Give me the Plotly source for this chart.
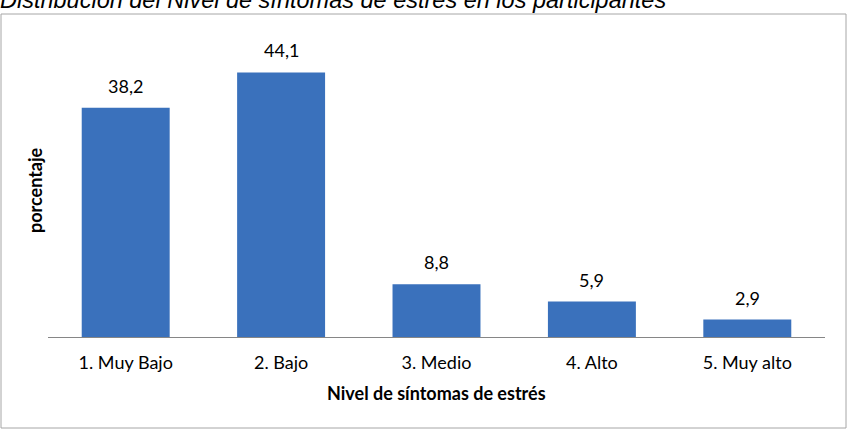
import plotly.graph_objects as go

categorias = ["1. Muy Bajo", "2. Bajo", "3. Medio", "4. Alto", "5. Muy alto"]
porcentajes = [38.2, 44.1, 8.8, 5.9, 2.9]
titulo = "Distribución del Nivel de síntomas de estrés en los participantes"
titulo_x = "Nivel de síntomas de estrés"
titulo_y = "porcentaje"

FONT = "Lato, Calibri, Carlito, sans-serif"

fig = go.Figure()
fig.add_trace(go.Bar(
    x=categorias, y=porcentajes,
    marker=dict(color="#3A71BC", line=dict(width=0)),
    width=0.566,
    hoverinfo="skip",
))

annotations = []
for c, v in zip(categorias, porcentajes):
    annotations.append(dict(
        x=c, y=v, xref="x", yref="y",
        text=f"{v:.1f}".replace(".", ","),
        showarrow=False, yanchor="bottom", yshift=9,
        font=dict(family=FONT, size=18, color="#000000"),
    ))
annotations.append(dict(
    x=(436 - 48) / 777, y=(337 - 393) / 300, xref="paper", yref="paper",
    text=f"<b>{titulo_x}</b>", showarrow=False, xanchor="center", yanchor="middle",
    font=dict(family=FONT, size=18, color="#000000"),
))
annotations.append(dict(
    x=(35 - 48) / 777, y=(337 - 190) / 300, xref="paper", yref="paper",
    text=f"<b>{titulo_y}</b>", showarrow=False, xanchor="center", yanchor="middle",
    textangle=-90,
    font=dict(family=FONT, size=18, color="#000000"),
))
annotations.append(dict(
    x=(-2 - 48) / 777, y=(337 - 15) / 300, xref="paper", yref="paper",
    text=f"<i>{titulo}</i>", showarrow=False, xanchor="left", yanchor="bottom",
    font=dict(family="Liberation Sans, Arial, sans-serif", size=23.5, color="#000000"),
))

fig.update_layout(
    width=854, height=444,
    margin=dict(l=48, r=29, t=37, b=107),
    paper_bgcolor="white", plot_bgcolor="white",
    showlegend=False,
    annotations=annotations,
    shapes=[dict(
        type="rect", xref="paper", yref="paper",
        x0=(1 - 48) / 777, x1=(846 - 48) / 777,
        y0=(337 - 428) / 300, y1=(337 - 14) / 300,
        line=dict(color="#A6A6A6", width=1), fillcolor="rgba(0,0,0,0)",
        layer="below",
    )],
    xaxis=dict(
        showline=True, linecolor="#868686", linewidth=1,
        ticks="", showgrid=False, zeroline=False,
        tickfont=dict(family=FONT, size=18, color="#000000"),
        ticklabelstandoff=9,
    ),
    yaxis=dict(
        range=[0, 50], showticklabels=False, showgrid=False,
        zeroline=False, showline=False, ticks="",
    ),
)

fig.write_html("out.html", config={"displayModeBar": False},
               post_script="document.body.style.margin='0';")
